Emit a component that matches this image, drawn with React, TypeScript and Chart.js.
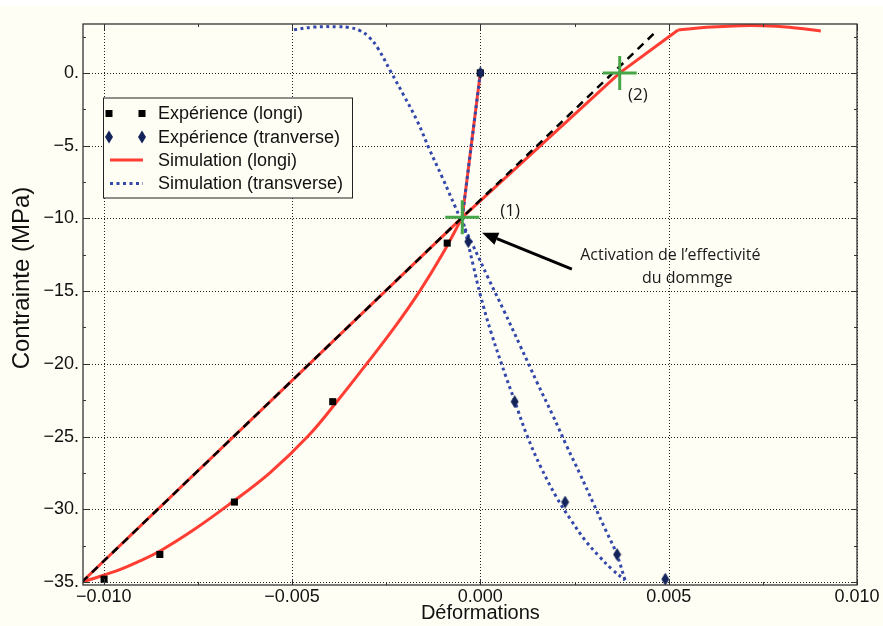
import React, { useEffect, useRef } from 'react';
import { Chart, registerables } from 'chart.js';
Chart.register(...registerables);

// ---- data ----
const xTicks = [-0.01, -0.005, 0, 0.005, 0.01];
const yTicks = [-35, -30, -25, -20, -15, -10, -5, 0];
const xMinorTicks = [-0.0075, -0.0025, 0.0025, 0.0075];
const yMinorTicks = [-32.5, -27.5, -22.5, -17.5, -12.5, -7.5, -2.5, 2.5];

const expLongiX = [0, -0.00088, -0.00392, -0.00653, -0.00851, -0.00999];
const expLongiY = [0, -11.7, -22.6, -29.5, -33.1, -34.8];

const expTransX = [0, -0.00032, 0.00091, 0.00225, 0.00363, 0.00491];
const expTransY = [0, -11.6, -22.6, -29.5, -33.1, -34.8];

const simLongiElasticX = [0, -0.00048];
const simLongiElasticY = [0, -9.93];
const simLongiLoadX = [-0.00048, -0.00101, -0.00161, -0.00229, -0.00302, -0.00377, -0.00456, -0.00558, -0.00667, -0.00759, -0.00847, -0.00905, -0.00968, -0.01058];
const simLongiLoadY = [-9.93, -12.47, -15.0, -17.53, -20.0, -22.47, -24.93, -27.47, -29.66, -31.37, -32.81, -33.56, -34.25, -35.0];
const simLongiUnloadX = [-0.01058, -0.00048, 0.0037, 0.00525];
const simLongiUnloadY = [-35.0, -9.93, 0, 2.95];
const simLongiTopX = [0.00525, 0.006, 0.00688, 0.0075, 0.0082, 0.00904];
const simLongiTopY = [2.95, 3.13, 3.24, 3.24, 3.13, 2.88];

const simTransElasticX = [0, -0.00048];
const simTransElasticY = [0, -9.93];
const simTransLoadX = [-0.00048, -0.00032, -0.00019, 0, 0.00029, 0.00069, 0.0009, 0.00124, 0.00161, 0.00203, 0.00241, 0.00278, 0.00315, 0.00349, 0.00384];
const simTransLoadY = [-9.93, -11.78, -13.22, -15.27, -17.88, -20.96, -22.47, -24.93, -27.12, -29.2, -30.75, -32.12, -33.22, -34.11, -34.86];
const simTransUnloadX = [0.00384, 0.00362, 0.00333, 0.003, 0.00265, 0.00228, 0.00192, 0.00151, 0.00106, 0.00063, 0.00021, -0.00021, -0.00045, -0.00066, -0.00101, -0.00135, -0.00167, -0.00204, -0.00238, -0.00272, -0.00296, -0.0032, -0.00349, -0.00378, -0.00442, -0.00497];
const simTransUnloadY = [-34.86, -33.08, -31.44, -29.59, -27.6, -25.58, -23.53, -21.3, -18.77, -16.37, -14.11, -11.78, -10.48, -9.25, -7.19, -5.27, -3.34, -1.51, 0.09, 1.69, 2.47, 2.91, 3.12, 3.17, 3.15, 2.95];

const tangentX = [-0.01058, 0.00468];
const tangentY = [-35.0, 2.88];

const markX = [-0.00048, 0.0037];
const markY = [-9.93, 0];

const legendLabels = ['Expérience (longi)', 'Expérience (tranverse)', 'Simulation (longi)', 'Simulation (transverse)'];

// ---- styles ----
const BG = '#FEFEF4';
const RED = '#FF3D33';
const BLUE = '#3447AA';
const NAVY = '#14235A';
const GREEN = '#47A647';
const FONT = '"Liberation Sans", Arial, Helvetica, sans-serif';
const ANNOT_FONT = '"Open Sans", "Noto Sans", sans-serif';

const zip = (xs: number[], ys: number[]) => xs.map((x, i) => ({ x, y: ys[i] }));

function makeDiamond(): HTMLCanvasElement {
  const c = document.createElement('canvas');
  c.width = 9; c.height = 13;
  const g = c.getContext('2d')!;
  g.fillStyle = NAVY;
  g.beginPath();
  g.moveTo(4.5, 0); g.lineTo(8.5, 6.5); g.lineTo(4.5, 13); g.lineTo(0.5, 6.5); g.closePath();
  g.fill();
  return c;
}

function drawDiamond(ctx: CanvasRenderingContext2D, x: number, y: number) {
  ctx.beginPath();
  ctx.moveTo(x, y - 6.5); ctx.lineTo(x + 4, y); ctx.lineTo(x, y + 6.5); ctx.lineTo(x - 4, y); ctx.closePath();
  ctx.fillStyle = NAVY; ctx.fill();
}

const framePlugin = {
  id: 'frame',
  beforeDraw(chart: any) {
    const ctx = chart.ctx;
    ctx.save();
    ctx.fillStyle = BG;
    ctx.fillRect(0, 0, chart.width, chart.height);
    ctx.fillStyle = '#ffffff';
    ctx.fillRect(0, 0, chart.width, 6);
    ctx.restore();
  },
  beforeDatasetsDraw(chart: any) {
    const { ctx, chartArea: a, scales } = chart;
    const xs = scales.x, ys = scales.y;
    ctx.save();
    ctx.strokeStyle = '#222';
    ctx.lineWidth = 1;
    ctx.setLineDash([1, 2]);
    xTicks.forEach((v) => {
      const px = Math.round(xs.getPixelForValue(v)) + 0.5;
      ctx.beginPath(); ctx.moveTo(px, a.top); ctx.lineTo(px, a.bottom); ctx.stroke();
    });
    yTicks.forEach((v) => {
      const py = Math.round(ys.getPixelForValue(v)) + 0.5;
      ctx.beginPath(); ctx.moveTo(a.left, py); ctx.lineTo(a.right, py); ctx.stroke();
    });
    ctx.restore();
  },
  afterDatasetsDraw(chart: any) {
    const { ctx, chartArea: a, scales } = chart;
    const xs = scales.x, ys = scales.y;
    ctx.save();
    // frame
    ctx.strokeStyle = '#333';
    ctx.lineWidth = 1.3;
    ctx.setLineDash([]);
    ctx.strokeRect(a.left, a.top, a.right - a.left, a.bottom - a.top);
    // ticks
    ctx.lineWidth = 1;
    const tickX = (v: number, len: number) => {
      const px = Math.round(xs.getPixelForValue(v)) + 0.5;
      ctx.beginPath();
      ctx.moveTo(px, a.bottom); ctx.lineTo(px, a.bottom - len);
      ctx.moveTo(px, a.top); ctx.lineTo(px, a.top + len);
      ctx.stroke();
    };
    const tickY = (v: number, len: number) => {
      const py = Math.round(ys.getPixelForValue(v)) + 0.5;
      ctx.beginPath();
      ctx.moveTo(a.left, py); ctx.lineTo(a.left + len, py);
      ctx.moveTo(a.right, py); ctx.lineTo(a.right - len, py);
      ctx.stroke();
    };
    xTicks.forEach((v) => tickX(v, 6));
    xMinorTicks.forEach((v) => tickX(v, 3));
    yTicks.forEach((v) => tickY(v, 6));
    yMinorTicks.forEach((v) => tickY(v, 3));

    // legend
    const lx = a.left + 20, ly = a.top + 73.5;
    ctx.fillStyle = BG;
    ctx.fillRect(lx, ly, 249, 100);
    ctx.strokeStyle = '#222';
    ctx.lineWidth = 1;
    ctx.strokeRect(lx + 0.5, ly + 0.5, 249, 100);
    const rows = [ly + 16, ly + 39.5, ly + 62.5, ly + 86];
    const s1 = lx + 6, s2 = lx + 39;
    ctx.fillStyle = '#000';
    [s1, s2].forEach((sx) => ctx.fillRect(sx - 3.5, rows[0] - 3.5, 7, 7));
    [s1, s2].forEach((sx) => drawDiamond(ctx, sx, rows[1]));
    ctx.strokeStyle = RED; ctx.lineWidth = 3;
    ctx.beginPath(); ctx.moveTo(s1 + 1, rows[2]); ctx.lineTo(s2 + 1, rows[2]); ctx.stroke();
    ctx.strokeStyle = BLUE; ctx.setLineDash([3, 3.5]);
    ctx.beginPath(); ctx.moveTo(s1 + 1, rows[3]); ctx.lineTo(s2 + 1, rows[3]); ctx.stroke();
    ctx.setLineDash([]);
    ctx.fillStyle = '#111';
    ctx.font = '18px ' + FONT;
    ctx.textBaseline = 'middle';
    ctx.textAlign = 'left';
    legendLabels.forEach((t, i) => ctx.fillText(t, lx + 55, rows[i] + 1));

    // annotations
    const P = (x: number, y: number) => [xs.getPixelForValue(x), ys.getPixelForValue(y)];
    ctx.font = '17px ' + ANNOT_FONT;
    ctx.fillStyle = '#1a1a1a';
    const [p1x, p1y] = P(0.00053, -9.5);
    ctx.fillText('(1)', p1x, p1y);
    const [p2x, p2y] = P(0.00392, -1.5);
    ctx.fillText('(2)', p2x, p2y);
    ctx.font = '16px ' + ANNOT_FONT;
    const [t1x, t1y] = P(0.00265, -12.53);
    ctx.fillText('Activation de l’effectivité', t1x, t1y);
    const [t2x, t2y] = P(0.00429, -14.1);
    ctx.fillText('du dommge', t2x, t2y);
    // arrow
    const [hx, hy] = P(0.000045, -10.98);
    const [tx, ty] = P(0.00243, -13.49);
    const ang = Math.atan2(hy - ty, hx - tx);
    const hl = 16, hw = 6.5;
    const bx = hx - hl * Math.cos(ang), by = hy - hl * Math.sin(ang);
    ctx.strokeStyle = '#000'; ctx.lineWidth = 3;
    ctx.beginPath(); ctx.moveTo(tx, ty); ctx.lineTo(bx, by); ctx.stroke();
    ctx.fillStyle = '#000';
    ctx.beginPath();
    ctx.moveTo(hx, hy);
    ctx.lineTo(bx + hw * Math.sin(ang), by - hw * Math.cos(ang));
    ctx.lineTo(bx - hw * Math.sin(ang), by + hw * Math.cos(ang));
    ctx.closePath(); ctx.fill();

    // axis titles
    ctx.fillStyle = '#111';
    ctx.textAlign = 'center';
    ctx.font = '20px ' + FONT;
    ctx.fillText('Déformations', xs.getPixelForValue(0), 613);
    ctx.save();
    ctx.translate(22, 278);
    ctx.rotate(-Math.PI / 2);
    ctx.font = '24px ' + FONT;
    ctx.fillText('Contrainte (MPa)', 0, 0);
    ctx.restore();
    ctx.restore();
  },
};

export default function App() {
  const ref = useRef<HTMLCanvasElement>(null);
  useEffect(() => {
    document.body.style.margin = '0';
    document.body.style.background = BG;
    const diamond = makeDiamond();
    const line = (xs: number[], ys: number[], color: string, width: number, dash: number[], tension: number, order: number) => ({
      data: zip(xs, ys), showLine: true, borderColor: color, borderWidth: width, borderDash: dash,
      pointRadius: 0, tension, order, fill: false,
    });
    const chart = new Chart(ref.current!, {
      type: 'scatter',
      data: {
        datasets: [
          { data: zip(markX, markY), pointStyle: 'cross', pointRadius: 17, pointBorderWidth: 3, borderColor: GREEN, backgroundColor: GREEN, order: 0 } as any,
          { data: zip(expTransX, expTransY), pointStyle: diamond, pointRadius: 6, order: 1 } as any,
          { data: zip(expLongiX, expLongiY), pointStyle: 'rect', pointRadius: 5, backgroundColor: '#000', borderColor: '#000', pointBorderWidth: 0, order: 1 } as any,
          line(tangentX, tangentY, '#000', 2.5, [8, 6], 0, 2),
          line(simTransElasticX, simTransElasticY, BLUE, 3, [3, 3.5], 0, 3),
          line(simTransLoadX, simTransLoadY, BLUE, 3, [3, 3.5], 0.4, 3),
          line(simTransUnloadX, simTransUnloadY, BLUE, 3, [3, 3.5], 0.4, 3),
          line(simLongiElasticX, simLongiElasticY, RED, 3, [], 0, 4),
          line(simLongiLoadX, simLongiLoadY, RED, 3, [], 0.4, 4),
          line(simLongiUnloadX, simLongiUnloadY, RED, 3, [], 0, 4),
          line(simLongiTopX, simLongiTopY, RED, 3, [], 0.4, 4),
        ],
      },
      options: {
        responsive: false,
        animation: false,
        devicePixelRatio: 1,
        events: [],
        layout: { padding: { top: 24, right: 26, left: 0, bottom: 0 } },
        plugins: { legend: { display: false }, tooltip: { enabled: false } },
        scales: {
          x: {
            type: 'linear', min: -0.01055, max: 0.01,
            afterFit: (s: any) => { s.height = 41; },
            grid: { display: false, drawTicks: false },
            border: { display: false },
            ticks: {
              stepSize: 0.005, includeBounds: false, autoSkip: false, maxRotation: 0, padding: 1,
              color: '#111', font: { family: FONT, size: 18 },
              callback: (v: any) => { const n = Number(v); const s = Math.abs(n).toFixed(3); return n < -1e-9 ? '−' + s : s; },
            },
          },
          y: {
            type: 'linear', min: -35.2, max: 3.36,
            afterFit: (s: any) => { s.width = 83; },
            grid: { display: false, drawTicks: false },
            border: { display: false },
            ticks: {
              stepSize: 5, includeBounds: false, autoSkip: false, padding: 4,
              color: '#111', font: { family: FONT, size: 18 },
              callback: (v: any) => { const n = Math.round(Number(v)); return n === 0 ? '0.' : '−' + Math.abs(n) + '.'; },
            },
          },
        },
      } as any,
      plugins: [framePlugin],
    });
    return () => chart.destroy();
  }, []);
  return <canvas ref={ref} width={883} height={626} style={{ display: 'block' }} />;
}
